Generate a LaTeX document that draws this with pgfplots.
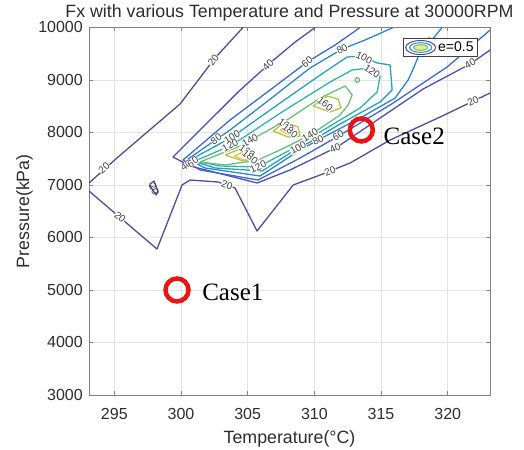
\documentclass[border=0pt]{standalone}
\usepackage{fontspec}
\setmainfont{Liberation Sans}
\newfontfamily\casefont{Liberation Serif}
\usepackage{pgfplots}
\pgfplotsset{compat=1.18}
\definecolor{c20}{RGB}{80,76,150}
\definecolor{c40}{RGB}{78,78,180}
\definecolor{c60}{RGB}{62,104,205}
\definecolor{c80}{RGB}{45,134,205}
\definecolor{c100}{RGB}{38,160,195}
\definecolor{c120}{RGB}{48,180,168}
\definecolor{c140}{RGB}{105,192,125}
\definecolor{c160}{RGB}{180,196,80}
\definecolor{c180}{RGB}{236,196,60}
\definecolor{axisgray}{RGB}{130,130,130}
\definecolor{gridgray}{RGB}{228,228,228}
\definecolor{textgray}{RGB}{45,45,45}
\definecolor{casered}{RGB}{235,20,20}
\tikzset{lab/.style={font=\fontsize{10}{10}\selectfont, text=black!75, fill=white, inner sep=0.3pt},
         labn/.style={font=\fontsize{10}{10}\selectfont, text=black!75, inner sep=0pt}}
\pgfplotsset{cl/.style={mark=none, line width=1.3pt, line join=round, forget plot}}
\begin{document}
\begin{tikzpicture}
\begin{axis}[
  scale only axis, width=401pt, height=367.5pt,
  xmin=293.1, xmax=323.17, ymin=3000, ymax=10000,
  xtick={295,300,...,320}, ytick={3000,4000,...,10000},
  scaled ticks=false,
  /pgf/number format/assume math mode=true,
  /pgf/number format/1000 sep={},
  tick align=inside, major tick length=4pt,
  tick style={axisgray, line width=0.6pt},
  axis line style={axisgray, line width=0.9pt},
  grid=major, grid style={gridgray, line width=0.6pt},
  ticklabel style={font=\fontsize{16}{18}\selectfont, text=textgray},
  xticklabel style={anchor=base, inner sep=0pt, yshift=-25pt},
  yticklabel style={anchor=east, inner sep=0pt, xshift=-6pt},
  every axis title shift=0pt,
  title={Fx with various Temperature and Pressure at 30000RPM},
  title style={at={(axis description cs:0.5,1)}, anchor=base, yshift=9.5pt, font=\fontsize{17.8}{20}\selectfont, text=textgray, inner sep=0pt},
  xlabel={Temperature(°C)},
  xlabel style={at={(axis description cs:0.5,0)}, anchor=base, yshift=-48.5pt, font=\fontsize{17.8}{20}\selectfont, text=textgray, inner sep=0pt},
  ylabel={Pressure(kPa)},
  ylabel style={at={(axis description cs:-0.1496,0.5)}, anchor=base, font=\fontsize{17.8}{20}\selectfont, text=textgray, inner sep=0pt},
  legend style={at={(axis description cs:0.970,0.9714)}, anchor=north east, draw=black!75, line width=0.8pt, font=\fontsize{14}{16}\selectfont, inner xsep=2pt, inner ysep=1.5pt, cells={anchor=west}},
]
% level 20
\addplot[cl, c20] coordinates {(293.10,7038) (295.28,7533) (299.93,8543) (302.55,9419) (304.65,10000)};
\addplot[cl, c20] coordinates {(293.10,6885) (298.20,5780) (300.08,7000) (300.68,7095) (302.78,7057) (304.05,6943) (305.70,6123) (308.41,7000) (310.43,7190) (312.68,7419) (315.68,7857) (319.43,8295) (323.18,8752)};
\addplot[cl, c20] coordinates {(297.68,7019) (297.98,7076) (298.28,6866) (298.13,6809) (297.68,6981) (297.68,7019)};
% level 40
\addplot[cl, c40] coordinates {(310.06,10000) (308.56,9724) (306.68,9324) (304.28,8771) (299.40,7533) (300.68,7362) (305.71,7038) (308.18,7286) (311.71,7724) (314.93,8276) (318.16,8829) (321.68,9305) (323.18,9571)};
% level 60
\addplot[cl, c60] coordinates {(313.43,10000) (311.56,9667) (309.46,9343) (306.68,8810) (303.68,8238) (300.15,7476) (301.43,7286) (305.78,7095) (308.93,7514) (311.56,7895) (315.68,8524) (319.96,9248) (323.18,9952)};
% level 80
\addplot[cl, c80] coordinates {(315.91,10000) (313.81,9762) (312.08,9590) (309.68,9229) (306.31,8562) (303.68,8048) (300.53,7495) (301.80,7324) (305.93,7171) (308.93,7667) (310.28,7857) (313.43,8276) (316.06,8657) (317.03,9000) (317.41,9209) (317.93,9533) (319.06,9838) (319.58,10000)};
% level 100
\addplot[cl, c100] coordinates {(300.68,7476) (303.83,7914) (307.43,8562) (310.66,9133) (312.46,9438) (313.58,9457) (314.71,9324) (315.68,9286) (315.83,8810) (314.93,8581) (313.43,8371) (311.93,8162) (309.68,7819) (308.78,7705) (306.08,7267) (302.55,7324) (300.68,7476)};
% level 120
\addplot[cl, c120] coordinates {(301.05,7457) (303.83,7762) (307.81,8429) (311.18,8962) (312.83,9190) (314.18,9229) (314.93,9076) (314.71,8771) (313.43,8467) (311.93,8238) (309.68,7895) (308.18,7667) (305.78,7343) (302.93,7362) (301.05,7457)};
% level 140
\addplot[cl, c140] coordinates {(301.43,7438) (304.43,7743) (308.18,8276) (310.43,8657) (312.31,8886) (312.83,8714) (312.53,8524) (311.93,8333) (309.68,7952) (307.43,7667) (305.78,7476) (303.30,7381) (301.43,7438)};
\addplot[cl, c140] coordinates {(313.06,9019) (313.21,9048) (313.36,9019) (313.36,8981) (313.21,8952) (313.06,8981) (313.06,9019)};
% level 160
\addplot[cl, c160] coordinates {(309.91,8505) (310.96,8695) (311.78,8638) (312.01,8467) (311.18,8390) (309.91,8505)};
\addplot[cl, c160] coordinates {(306.91,8029) (307.81,8200) (308.78,8105) (308.93,7933) (308.03,7914) (306.91,8029)};
\addplot[cl, c160] coordinates {(303.30,7571) (304.43,7686) (305.33,7629) (305.56,7495) (304.66,7457) (303.30,7571)};
% level 180
\addplot[cl, c180] coordinates {(307.43,8048) (307.96,8124) (308.48,8067) (308.56,7971) (307.96,7971) (307.43,8048)};
\addplot[cl, c180] coordinates {(303.98,7552) (304.66,7629) (305.18,7571) (305.26,7495) (304.73,7476) (303.98,7552)};
% contour labels
\node[lab, rotate=42] at (axis cs:294.23,7324) {20};
\node[lab, rotate=52] at (axis cs:302.42,9381) {20};
\node[lab, rotate=-40] at (axis cs:295.43,6390) {20};
\node[lab, rotate=-19] at (axis cs:303.45,7000) {20};
\node[lab, rotate=22] at (axis cs:311.18,7267) {20};
\node[lab, rotate=26] at (axis cs:321.91,8600) {20};
\node[labn, rotate=-65] at (axis cs:297.98,6924) {20};
\node[lab, rotate=43] at (axis cs:306.53,9286) {40};
\node[lab, rotate=35] at (axis cs:300.38,7362) {40};
\node[lab, rotate=26] at (axis cs:311.56,7705) {40};
\node[lab, rotate=31] at (axis cs:321.68,9305) {40};
\node[lab, rotate=37] at (axis cs:309.46,9343) {60};
\node[lab, rotate=35] at (axis cs:300.90,7438) {60};
\node[lab, rotate=30] at (axis cs:311.78,7933) {60};
\node[lab, rotate=28] at (axis cs:312.08,9590) {80};
\node[lab, rotate=35] at (axis cs:302.64,7876) {80};
\node[lab, rotate=27] at (axis cs:310.28,7857) {80};
\node[lab, rotate=47] at (axis cs:318.55,9705) {80};
\node[lab, rotate=-25] at (axis cs:313.73,9419) {100};
\node[lab, rotate=30] at (axis cs:303.83,7914) {100};
\node[lab, rotate=28] at (axis cs:308.78,7705) {100};
\node[lab, rotate=-35] at (axis cs:314.33,9171) {120};
\node[lab, rotate=28] at (axis cs:303.68,7752) {120};
\node[lab, rotate=25] at (axis cs:305.78,7343) {120};
\node[lab, rotate=30] at (axis cs:305.18,7848) {140};
\node[lab, rotate=33] at (axis cs:309.68,7952) {140};
\node[lab, rotate=-40] at (axis cs:310.81,8543) {160};
\node[lab, rotate=-35] at (axis cs:307.88,8143) {160};
\node[lab, rotate=-35] at (axis cs:304.96,7648) {160};
\node[lab, rotate=-40] at (axis cs:308.18,8029) {180};
\node[lab, rotate=-40] at (axis cs:305.18,7533) {180};
% cases
\addplot[only marks, mark=o, mark size=11.5pt, casered, mark options={line width=4.5pt, draw=casered}, forget plot] coordinates {(299.70,5000) (313.52,8048)};
\node[anchor=base west, inner sep=0pt, font=\casefont\fontsize{25}{28}\selectfont] at (axis cs:301.58,4809) {Case1};
\node[anchor=base west, inner sep=0pt, font=\casefont\fontsize{25}{28}\selectfont] at (axis cs:315.18,7762) {Case2};
% legend
\addlegendimage{legend image code/.code={
  \draw[c20, line width=1pt] (0pt,0pt) ellipse [x radius=15pt, y radius=7pt];
  \draw[c80, line width=1pt] (0pt,0pt) ellipse [x radius=11pt, y radius=4.8pt];
  \draw[c140, fill={rgb,255:red,240;green,236;blue,120}, line width=1pt] (0pt,0pt) ellipse [x radius=7pt, y radius=2.8pt];
}}
\addlegendentry{e=0.5}
\end{axis}
\pgfresetboundingbox
\path[use as bounding box] ([xshift=-89pt,yshift=-55pt]current axis.south west) rectangle ([xshift=34pt,yshift=27.5pt]current axis.north east);
\end{tikzpicture}
\end{document}
